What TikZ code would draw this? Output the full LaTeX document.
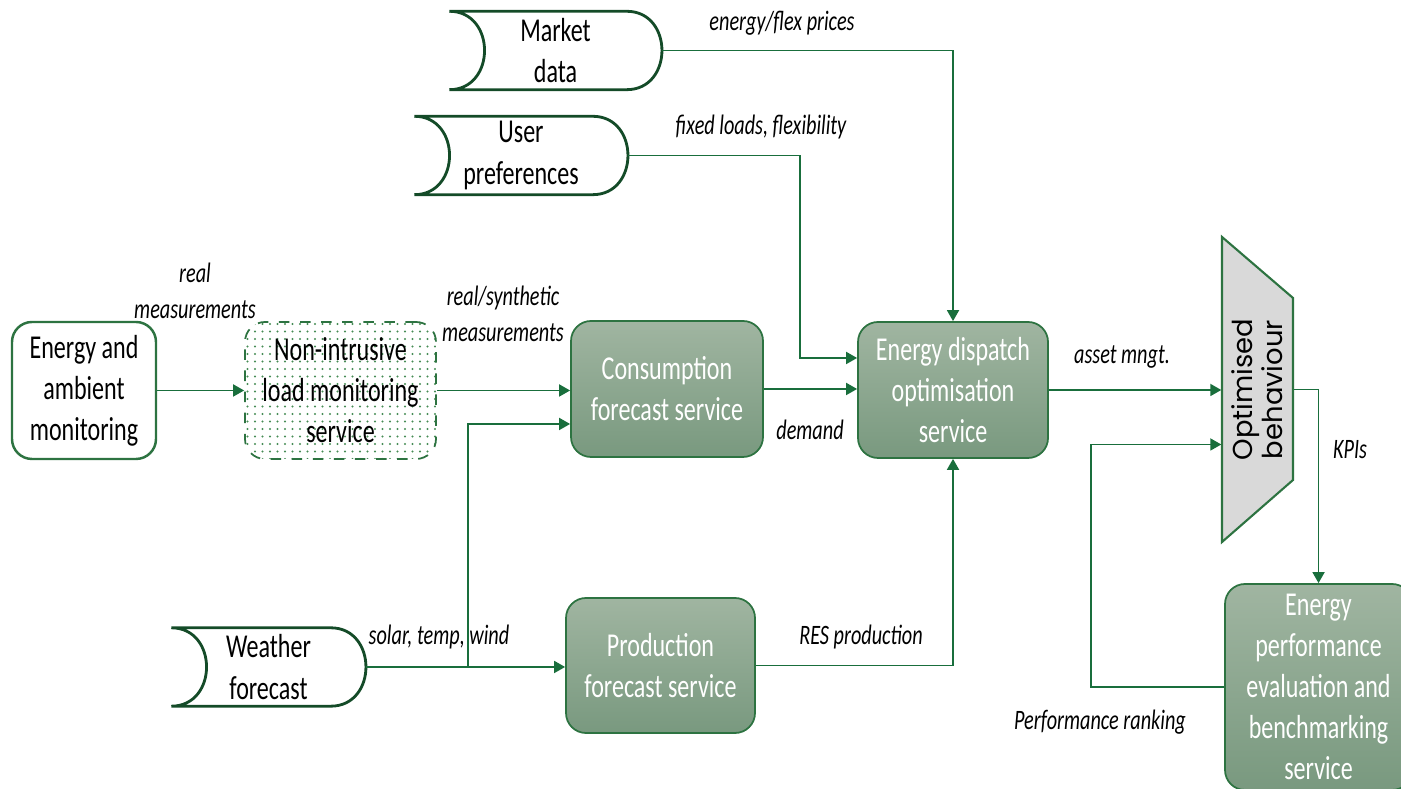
\documentclass[tikz,border=0pt]{standalone}
\usepackage{fontspec}
\setmainfont{Carlito}[FakeStretch=0.72]
\newfontfamily\optfont{Poppins}
\usepackage{tikz}
\usetikzlibrary{arrows.meta}
\usetikzlibrary{patterns.meta}
\usetikzlibrary{calc}

\definecolor{linegreen}{RGB}{25,110,60}
\definecolor{edgegreen}{RGB}{20,75,40}
\definecolor{boxgreen}{RGB}{45,115,65}
\definecolor{svtop}{RGB}{160,181,161}
\definecolor{svbot}{RGB}{121,153,127}
\definecolor{dotgreen}{RGB}{70,140,85}
\definecolor{optgray}{RGB}{217,217,217}

\begin{document}
\begin{tikzpicture}

		\tikzset{
			box/.style={
				draw=boxgreen,
				line width=0.7pt,
				rounded corners=2mm,
				inner sep=0pt,
				align=center,
				font=\fontsize{9.5}{11.7}\selectfont
			},
			service/.style={
				box,
				line width=0.5pt,
				top color=svtop,
				bottom color=svbot,
				text=white
			},
			nilmbox/.style={
				box,
				line width=0.5pt,
				dashed,
				pattern={Dots[radius=0.35pt,distance=0.75mm]},
				pattern color=dotgreen
			},
			store/.style={
				minimum height=7.7mm,
				inner sep=0pt,
				align=center,
				font=\fontsize{9.5}{11.7}\selectfont
			},
			storeline/.style={draw=edgegreen,line width=0.8pt},
			flow/.style={draw=linegreen,line width=0.5pt,-{Triangle[length=1.1mm,width=1.2mm]}},
			lbl/.style={align=center,font=\fontsize{8}{10.2}\selectfont\itshape}
		}

		\useasboundingbox (0,0) rectangle (14.01,7.89);

		\node[box,minimum width=1.44cm,minimum height=1.37cm] (mon) at (0.84,3.985)
		{Energy and\\ambient\\monitoring};

		\node[nilmbox,minimum width=1.91cm,minimum height=1.37cm] (nilm) at (3.405,3.985)
		{Non-intrusive\\load monitoring\\service};

		\node[service,minimum width=1.92cm,minimum height=1.36cm] (cons) at (6.67,4.00)
		{Consumption\\forecast service};

		\node[service,minimum width=1.90cm,minimum height=1.36cm] (disp) at (9.53,3.99)
		{Energy dispatch\\optimisation\\service};

		\node[service,minimum width=1.89cm,minimum height=1.35cm] (prod) at (6.605,1.235)
		{Production\\forecast service};

		\node[service,minimum width=1.87cm,minimum height=2.06cm] (eval) at (13.185,1.02)
		{Energy\\performance\\evaluation and\\benchmarking\\service};

		\node[store,minimum width=2.11cm] (mkt) at (5.555,7.385) {Market\\data};
		\node[store,minimum width=2.12cm] (usr) at (5.21,6.335) {User\\preferences};
		\node[store,minimum width=1.93cm] (wth) at (2.685,1.22) {Weather\\forecast};

		\foreach \s in {mkt,usr,wth}
		\draw[storeline] (\s.north west) -- ([xshift=-3.5mm]\s.north east)
		.. controls +(4.7mm,0) and +(4.7mm,0) .. ([xshift=-3.5mm]\s.south east)
		-- (\s.south west) .. controls +(4.7mm,0) and +(4.7mm,0) .. cycle;

		\draw[fill=optgray,draw=boxgreen,line width=0.6pt]
		(12.22,5.52) -- (12.93,4.91) -- (12.93,3.09) -- (12.22,2.47) -- cycle;
		\node[rotate=90,minimum width=3.05cm,minimum height=0.71cm,inner sep=0pt,align=center,
		font=\optfont\fontsize{7.8}{8.6}\selectfont] (opt) at (12.575,3.995)
		{Optimised\\behaviour};

		\coordinate (split) at (4.68,1.22);

		\draw[flow] (mon) -- (nilm);
		\draw[flow] (nilm) -- (cons.west |- nilm);
		\draw[flow] (wth) -- (prod.west |- wth);
		\draw[flow] (split) |- ($(cons.west)+(0,-0.35)$);
		\draw[flow] (cons) -- (disp.west |- cons);
		\draw[flow] (usr.east) -| ($(disp.west)+(-0.57,0.32)$) -- ($(disp.west)+(0,0.32)$);
		\draw[flow] (mkt.east) -| (disp.north);
		\draw[flow] (prod.east) -| (disp.south);
		\draw[flow] (disp.east) -- (disp.east -| opt.north);
		\draw[flow] (opt.south) -| (eval.north);
		\draw[flow] (eval.west) -| ($(opt.north)+(-1.3,-0.55)$) -- ($(opt.north)+(0,-0.55)$);

		\node[lbl] (lreal) at (1.95,4.98) {real\\measurements};
		\node[lbl] (lsyn) at (5.03,4.75) {real/synthetic\\measurements};
		\node[lbl] (lprice) at (7.82,7.66) {energy/flex prices};
		\node[lbl] (lpref) at (7.61,6.62) {fixed loads, flexibility};
		\node[lbl] (ldem) at (8.10,3.59) {demand};
		\node[lbl] (lmngt) at (11.22,4.32) {asset mngt.};
		\node[lbl] (lsol) at (4.39,1.52) {solar, temp, wind};
		\node[lbl] (lres) at (8.61,1.52) {RES production};
		\node[lbl] (lkpi) at (13.50,3.39) {KPIs};
		\node[lbl] (lrank) at (11.00,0.67) {Performance ranking};

	\end{tikzpicture}
\end{document}
